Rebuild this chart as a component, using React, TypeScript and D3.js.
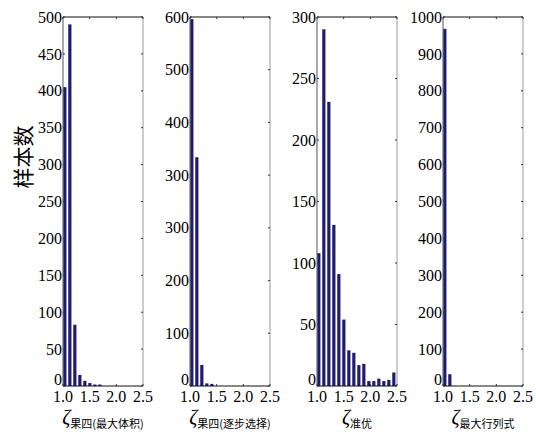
import React from "react";
import * as d3 from "d3";

// histogram bins over [1.0, 2.5], 16 bins
const binLo = 1.0;
const binHi = 2.5;
const xTicks = [1.0, 1.5, 2.0, 2.5];

const counts1 = [405, 490, 83, 15, 7, 4, 2, 2, 0, 0, 0, 0, 0, 0, 0, 0];
const counts2 = [696, 434, 40, 5, 4, 0, 0, 0, 0, 0, 0, 0, 0, 0, 0, 0];
const counts3 = [108, 290, 231, 131, 91, 54, 29, 27, 17, 18, 4, 4, 6, 4, 5, 11];
const counts4 = [968, 32, 0, 0, 0, 0, 0, 0, 0, 0, 0, 0, 0, 0, 0, 0];

const yMax = [500, 700, 300, 1000];
const yStep = [50, 100, 50, 100];
// the second panel's labels are printed this way in the source figure
const yLabels2 = ["0", "100", "200", "300", "300", "400", "500", "600"];

const subLabels = ["果四(最大体积)", "果四(逐步选择)", "准优", "最大行列式"];
const yTitle = "样本数";

const allCounts = [counts1, counts2, counts3, counts4];
const panelLeft = [63, 190, 317, 443];
const pw = 80;
const top = 17;
const bottom = 386;
const serif = { fontFamily: "'Liberation Serif', 'DejaVu Serif', serif" };
const cjk = { fontFamily: "'Noto Sans CJK SC', sans-serif" };

function Panel({ idx }: { idx: number }) {
  const x0 = panelLeft[idx];
  const counts = allCounts[idx];
  const x = d3.scaleLinear().domain([binLo, binHi]).range([x0, x0 + pw]);
  const y = d3.scaleLinear().domain([0, yMax[idx]]).range([bottom, top]);
  const bw = (binHi - binLo) / counts.length;
  const yt = d3.range(0, yMax[idx] + 1, yStep[idx]);

  return (
    <g>
      {counts.map((c, i) => {
        if (c <= 0) return null;
        const a = x(binLo + i * bw);
        const w = x(binLo + (i + 1) * bw) - a;
        return (
          <g key={i}>
            <rect x={a + w * 0.05} y={y(c)} width={w * 0.55} height={bottom - y(c)} fill="#1f1b6e" />
            <rect x={a + w * 0.6} y={y(c)} width={w * 0.2} height={bottom - y(c)} fill="#9c9ac8" />
          </g>
        );
      })}
      {/* frame */}
      <line x1={x0} x2={x0 + pw} y1={top} y2={top} stroke="#111" />
      <line x1={x0} x2={x0} y1={top} y2={bottom} stroke="#555" />
      <line x1={x0 + pw} x2={x0 + pw} y1={top} y2={bottom} stroke="#999" />
      <line x1={x0} x2={x0 + pw} y1={bottom} y2={bottom} stroke="#111" />
      {/* y ticks */}
      {yt.map((v, i) => (
        <g key={"y" + i}>
          <line x1={x0} x2={x0 + 2} y1={y(v)} y2={y(v)} stroke="#333" />
          <line x1={x0 + pw - 2} x2={x0 + pw} y1={y(v)} y2={y(v)} stroke="#333" />
          <text x={x0 - 1} y={v === 0 ? y(v) - 7 : y(v)} dy="0.35em" textAnchor="end" style={serif} fontSize={16}>
            {idx === 1 ? yLabels2[i] : String(v)}
          </text>
        </g>
      ))}
      {/* x ticks */}
      {xTicks.map((v, i) => (
        <g key={"x" + i}>
          <line x1={x(v)} x2={x(v)} y1={top} y2={top + 2} stroke="#333" />
          <line x1={x(v)} x2={x(v)} y1={bottom} y2={bottom - 2} stroke="#333" />
          <text x={x(v)} y={402} textAnchor="middle" style={serif} fontSize={16}>
            {d3.format(".1f")(v)}
          </text>
        </g>
      ))}
      <text x={x0 + pw / 2} y={424} textAnchor="middle">
        <tspan style={serif} fontStyle="italic" fontSize={20}>ζ</tspan>
        <tspan style={cjk} fontSize={11} dy={4}>{subLabels[idx]}</tspan>
      </text>
    </g>
  );
}

export default function App() {
  return (
    <svg width={536} height={435} style={{ position: "absolute", left: 0, top: 0, background: "#fff" }}>
      <rect width={536} height={435} fill="#fff" />
      <text
        transform="translate(22,157) rotate(-90)"
        textAnchor="middle"
        dominantBaseline="central"
        style={cjk}
        fontSize={21}
      >
        {yTitle}
      </text>
      {[0, 1, 2, 3].map((i) => (
        <Panel key={i} idx={i} />
      ))}
    </svg>
  );
}
